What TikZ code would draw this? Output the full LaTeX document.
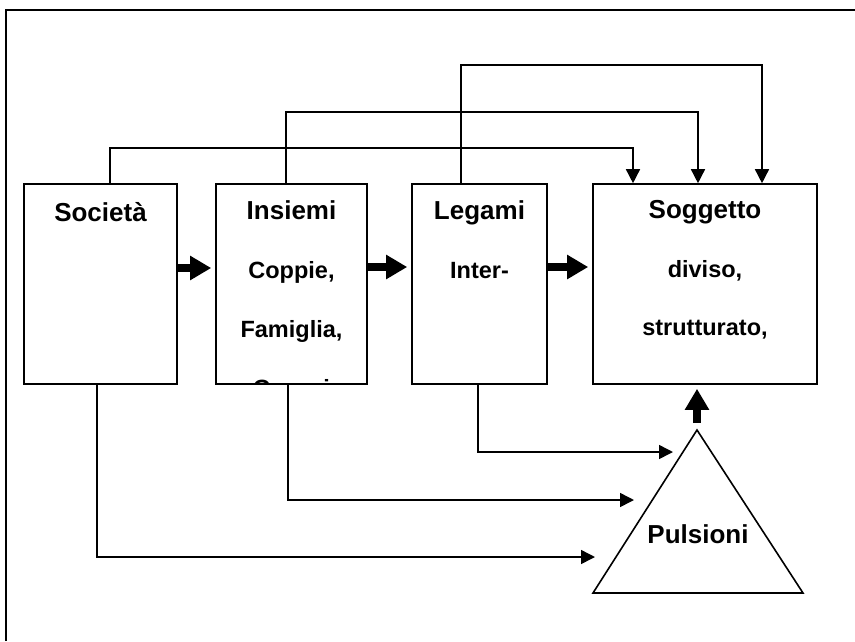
\documentclass[tikz,border=0pt]{standalone}
\usepackage{fontspec}
\setmainfont{Liberation Sans}
\usetikzlibrary{arrows.meta}

\begin{document}
\begin{tikzpicture}[x=1pt, y=-1pt,
    box/.style={draw, line width=1.6pt, rectangle, inner sep=0pt, minimum height=200pt},
    title/.style={anchor=base, font=\fontsize{26}{30}\selectfont\bfseries},
    body/.style={anchor=base, font=\fontsize{23.5}{28}\selectfont\bfseries},
    thinarr/.style={line width=1.5pt, -{Triangle[length=14pt,width=14pt]}},
    fatarr/.style={line width=8pt, -{Triangle[length=21pt,width=23pt]}, shorten >=4pt}]
    
    \useasboundingbox (0,0) rectangle (855,641);
    
    %Frame
    \draw[line width=1.6pt] (6,641) -- (6,10) -- (855,10); %Left and top
    
    %Boxes
    \node[box, minimum width=153pt] (soc) at (100.5,284) {}; %Societa
    \node[box, minimum width=151pt] (ins) at (291.5,284) {}; %Insiemi
    \node[box, minimum width=135pt] (leg) at (479.5,284) {}; %Legami
    \node[box, minimum width=224pt] (sog) at (705,284) {};   %Soggetto
    
    %Box texts
    \node[title] (socT) at (100.5,221) {Società};
    \begin{scope}
        \clip (ins.north west) rectangle (ins.south east);
        \node[title] (insT) at (291.5,219) {Insiemi};
        \node[body] (insA) at (291.5,278) {Coppie,};
        \node[body] (insB) at (291.5,337) {Famiglia,};
        \node[body] (insC) at (291.5,396) {Gruppi};
    \end{scope}
    \node[title] (legT) at (479.5,219) {Legami};
    \node[body] (legA) at (479.5,278) {Inter-};
    \node[title] (sogT) at (705,218) {Soggetto};
    \node[body] (sogA) at (705,277) {diviso,};
    \node[body] (sogB) at (705,335) {strutturato,};
    
    %Pulsioni triangle
    \coordinate (apex) at (697,430);
    \coordinate (puL) at (593,593);
    \coordinate (puR) at (803,593);
    \draw[line width=1.6pt] (apex) -- (puL) -- (puR) -- cycle;
    \node[title] (pulT) at (698,543) {Pulsioni};
    
    %Fat arrows
    \draw[fatarr] ([yshift=16pt]soc.east) -- ([yshift=16pt]ins.west);
    \draw[fatarr] ([yshift=17pt]ins.east) -- ([yshift=17pt]leg.west);
    \draw[fatarr] ([yshift=17pt]leg.east) -- ([yshift=17pt]sog.west);
    \draw[fatarr, shorten <=7pt] (apex) -- (apex |- sog.south);
    
    %Top lines
    \draw[thinarr] ([xshift=9.5pt]soc.north) -- ++(0,-35) -| ([xshift=-72pt]sog.north);
    \draw[thinarr] ([xshift=-5.5pt]ins.north) -- ++(0,-71) -| ([xshift=-7pt]sog.north);
    \draw[thinarr] ([xshift=-18.5pt]leg.north) -- ++(0,-118) -| ([xshift=57pt]sog.north);
    
    %Bottom lines
    \coordinate (in1) at (673,452);
    \coordinate (in2) at (634,500);
    \coordinate (in3) at (595,557);
    \draw[thinarr] ([xshift=-1.5pt]leg.south) |- (in1);
    \draw[thinarr] ([xshift=-3.5pt]ins.south) |- (in2);
    \draw[thinarr] ([xshift=-3.5pt]soc.south) |- (in3);
    
\end{tikzpicture}
\end{document}
